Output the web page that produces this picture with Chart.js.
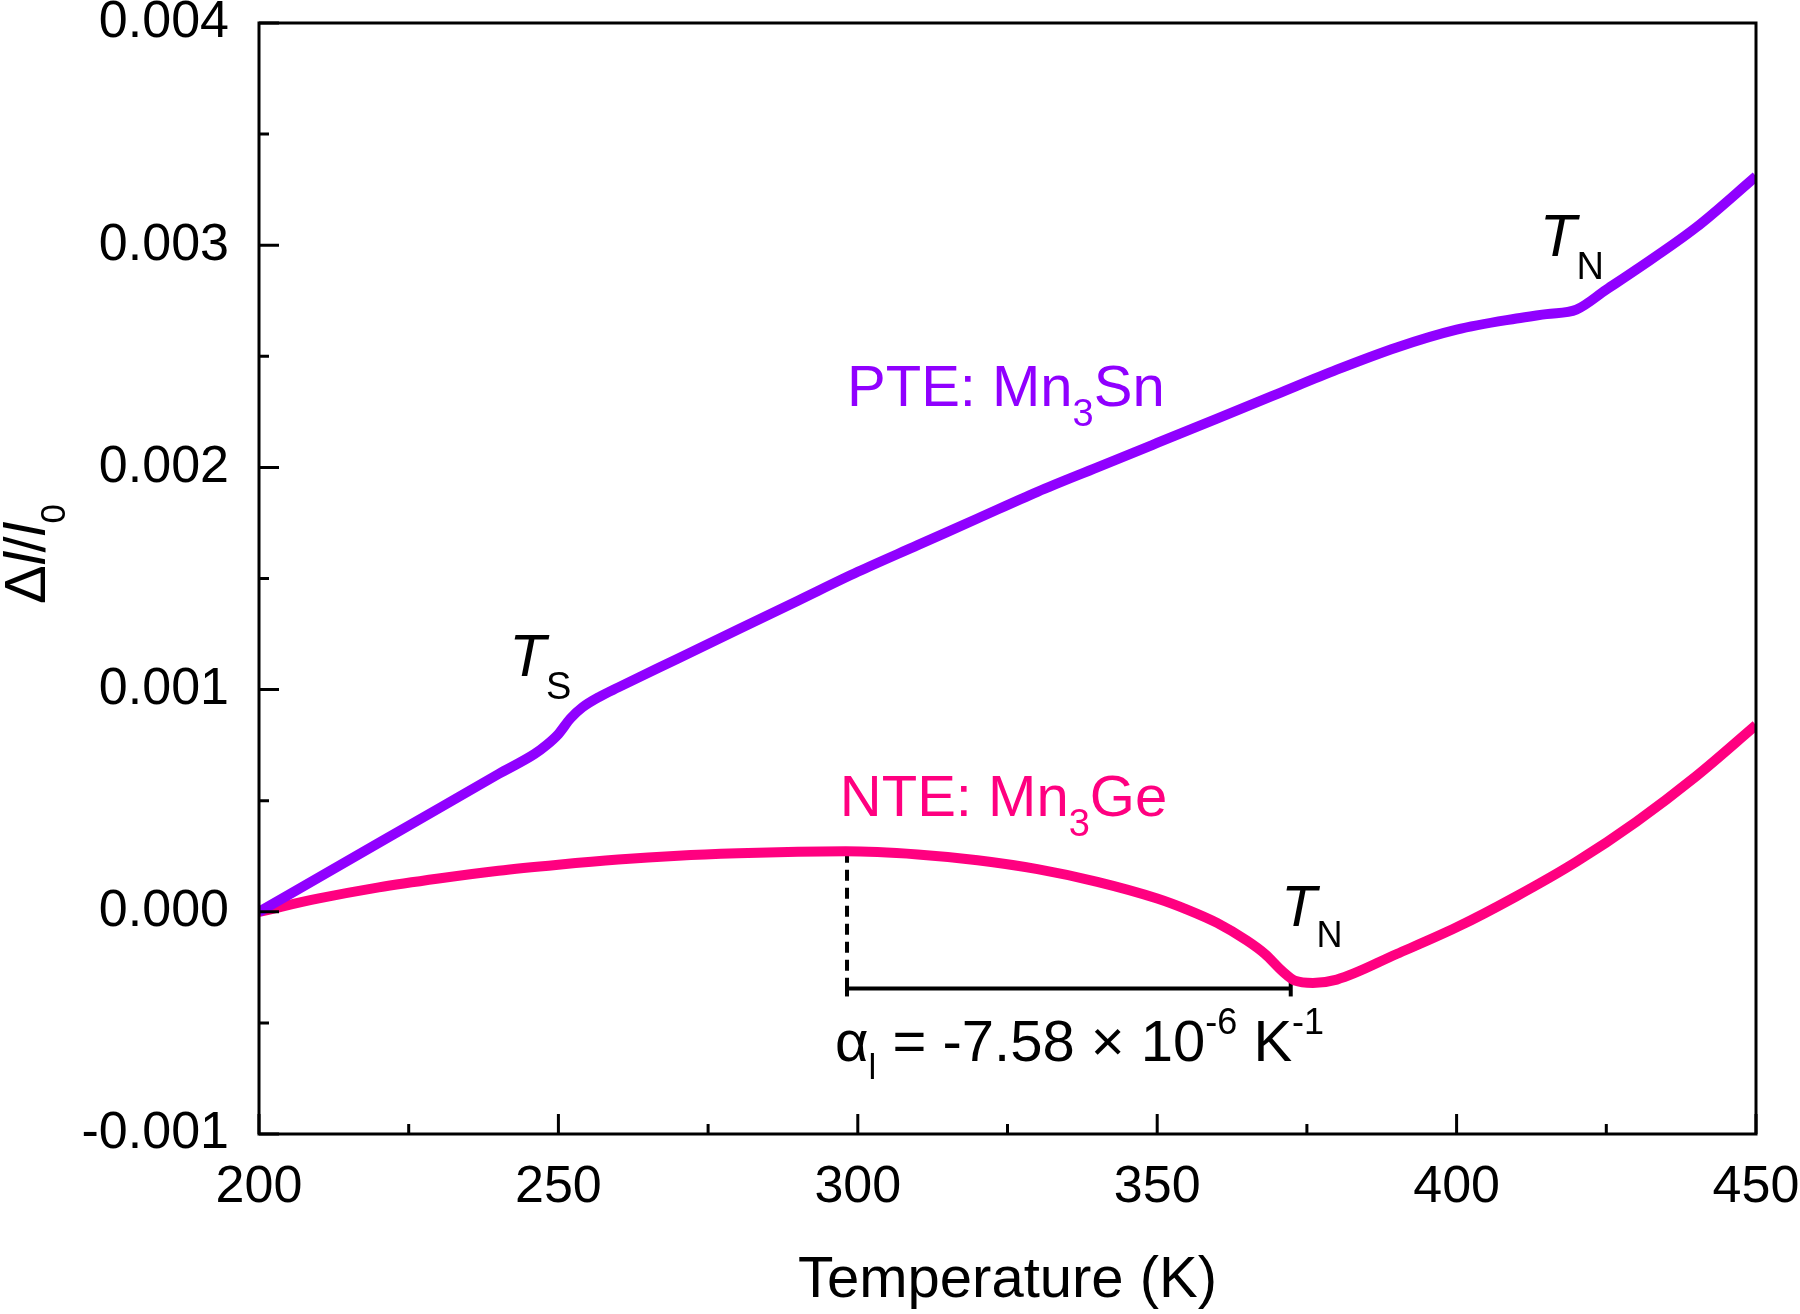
<!DOCTYPE html>
<html>
<head>
<meta charset="utf-8">
<script src="https://cdn.jsdelivr.net/npm/chart.js@4.4.1/dist/chart.umd.min.js"></script>
<style>
  html, body { margin: 0; padding: 0; background: #fff; }
  #wrap { width: 1800px; height: 1314px; }
</style>
</head>
<body>
<div id="wrap"><canvas id="chart" width="1800" height="1314"></canvas></div>
<script>
// PTE: Mn3Sn
const snTemp = [200, 210, 220, 230, 240, 246, 248, 250, 252, 254, 257, 260, 270, 280, 290, 300, 310, 320, 330, 340, 350, 360, 370, 380, 390, 400, 410, 415, 420, 425, 430, 440, 450];
const snDl = [0, 0.000155, 0.00031, 0.000465, 0.00062, 0.00071, 0.00075, 0.0008, 0.00087, 0.00092, 0.00097, 0.00101, 0.00114, 0.00127, 0.0014, 0.00153, 0.00165, 0.00177, 0.00189, 0.002, 0.00211, 0.00222, 0.00233, 0.00244, 0.00254, 0.00262, 0.00267, 0.00269, 0.00271, 0.0028, 0.00289, 0.00308, 0.00331];

// NTE: Mn3Ge
const geTemp = [200, 210, 220, 230, 240, 250, 260, 270, 280, 290, 298, 310, 320, 330, 340, 350, 355, 360, 365, 368, 371, 373, 376, 380, 390, 400, 410, 420, 430, 440, 450];
const geDl = [0, 0.00006, 0.00011, 0.00015, 0.000185, 0.000212, 0.000235, 0.000252, 0.000263, 0.00027, 0.000272, 0.000258, 0.000232, 0.000192, 0.000135, 0.00006, 0.00001, -0.00005, -0.00013, -0.00019, -0.00027, -0.00031, -0.00032, -0.000305, -0.00019, -0.00007, 0.00007, 0.000225, 0.000405, 0.00061, 0.00084];

// alpha bracket (298.2 K -> T_N 372.3 K)
const dashT = [298.2, 298.2];
const dashV = [0.00027, -0.000345];
const barT = [298.2, 372.3];
const barV = [-0.000345, -0.000345];

const xTicks = [200, 250, 300, 350, 400, 450];
const yTicks = [-0.001, 0, 0.001, 0.002, 0.003, 0.004];

const PURPLE = '#9000ff';
const PINK = '#ff0080';
const FONT = '"Liberation Sans", Arial, sans-serif';

function pts(xs, ys) {
  return xs.map((x, i) => ({ x: x, y: ys[i] }));
}

// draws text pieces one after another (sub/superscripts via dy)
function richText(ctx, x, y, parts, color) {
  ctx.fillStyle = color;
  ctx.textAlign = 'left';
  ctx.textBaseline = 'alphabetic';
  parts.forEach(p => {
    ctx.font = (p.it ? 'italic ' : '') + p.s + 'px ' + FONT;
    ctx.fillText(p.t, x, y + (p.dy || 0));
    x += ctx.measureText(p.t).width;
  });
}

function richWidth(ctx, parts) {
  let w = 0;
  parts.forEach(p => {
    ctx.font = (p.it ? 'italic ' : '') + p.s + 'px ' + FONT;
    w += ctx.measureText(p.t).width;
  });
  return w;
}

const notes = [
  { t: 298.2, v: 0.002275, c: PURPLE, parts: [{ t: 'PTE: Mn', s: 58 }, { t: '3', s: 38, dy: 20 }, { t: 'Sn', s: 58 }] },
  { t: 297.0, v: 0.00043, c: PINK, parts: [{ t: 'NTE: Mn', s: 58 }, { t: '3', s: 38, dy: 20 }, { t: 'Ge', s: 58 }] },
  { t: 241.8, v: 0.00106, c: '#000', parts: [{ t: 'T', s: 60, it: true }, { t: 'S', s: 38, dy: 23 }] },
  { t: 413.9, v: 0.00295, c: '#000', parts: [{ t: 'T', s: 60, it: true }, { t: 'N', s: 38, dy: 23 }] },
  { t: 370.7, v: -0.000065, c: '#000', parts: [{ t: 'T', s: 58, it: true }, { t: 'N', s: 36, dy: 21 }] },
  { t: 296.2, v: -0.000673, c: '#000', parts: [
    { t: 'α', s: 58 }, { t: 'l', s: 35, dy: 18 }, { t: ' = -7.58 × 10', s: 58 },
    { t: '-6', s: 36, dy: -27 }, { t: ' K', s: 58 }, { t: '-1', s: 36, dy: -27 }] }
];

const framePlugin = {
  id: 'frame',
  afterDraw(chart) {
    const { ctx, chartArea: a, scales: { x, y } } = chart;
    ctx.save();

    // box
    ctx.strokeStyle = '#000';
    ctx.lineWidth = 3;
    ctx.strokeRect(a.left, a.top, a.right - a.left, a.bottom - a.top);

    // inward ticks, major + minor (midpoints)
    ctx.beginPath();
    x.ticks.forEach((tk, i) => {
      const px = x.getPixelForValue(tk.value);
      ctx.moveTo(px, a.bottom); ctx.lineTo(px, a.bottom - 20);
      if (i < x.ticks.length - 1) {
        const mx = x.getPixelForValue((tk.value + x.ticks[i + 1].value) / 2);
        ctx.moveTo(mx, a.bottom); ctx.lineTo(mx, a.bottom - 10);
      }
    });
    y.ticks.forEach((tk, i) => {
      const py = y.getPixelForValue(tk.value);
      ctx.moveTo(a.left, py); ctx.lineTo(a.left + 20, py);
      if (i < y.ticks.length - 1) {
        const my = y.getPixelForValue((tk.value + y.ticks[i + 1].value) / 2);
        ctx.moveTo(a.left, my); ctx.lineTo(a.left + 10, my);
      }
    });
    ctx.stroke();

    // annotations
    notes.forEach(n => {
      richText(ctx, x.getPixelForValue(n.t), y.getPixelForValue(n.v), n.parts, n.c);
    });

    // x title
    ctx.fillStyle = '#000';
    ctx.font = '58px ' + FONT;
    ctx.textAlign = 'center';
    ctx.textBaseline = 'alphabetic';
    ctx.fillText('Temperature (K)', (a.left + a.right) / 2, 1297);

    // y title, rotated
    const yParts = [{ t: 'Δ', s: 58 }, { t: 'l', s: 58, it: true }, { t: '/', s: 58 }, { t: 'l', s: 58, it: true }, { t: '0', s: 35, dy: 20 }];
    ctx.translate(45, 554);
    ctx.rotate(-Math.PI / 2);
    richText(ctx, -richWidth(ctx, yParts) / 2, 0, yParts, '#000');

    ctx.restore();
  }
};

const ctx = document.getElementById('chart');
new Chart(ctx, {
  type: 'line',
  data: {
    datasets: [
      {
        label: 'PTE: Mn3Sn',
        data: pts(snTemp, snDl),
        borderColor: PURPLE,
        borderWidth: 10,
        pointRadius: 0,
        cubicInterpolationMode: 'monotone'
      },
      {
        label: 'NTE: Mn3Ge',
        data: pts(geTemp, geDl),
        borderColor: PINK,
        borderWidth: 10,
        pointRadius: 0,
        cubicInterpolationMode: 'monotone'
      },
      {
        label: 'bar',
        data: pts(barT, barV),
        borderColor: '#000',
        borderWidth: 4,
        pointStyle: 'line',
        rotation: 90,
        pointRadius: 8,
        pointBorderWidth: 4,
        pointBorderColor: '#000'
      },
      {
        label: 'dash',
        data: pts(dashT, dashV),
        borderColor: '#000',
        borderWidth: 4,
        borderDash: [11, 7],
        pointRadius: 0
      }
    ]
  },
  options: {
    responsive: false,
    animation: false,
    devicePixelRatio: 1,
    layout: { padding: { top: 23, right: 44, left: 0, bottom: 0 } },
    plugins: {
      legend: { display: false },
      tooltip: { enabled: false }
    },
    scales: {
      x: {
        type: 'linear',
        min: 200,
        max: 450,
        grid: { display: false },
        border: { display: false },
        afterBuildTicks: s => { s.ticks = xTicks.map(v => ({ value: v })); },
        afterFit: s => { s.height = 180; s.paddingLeft = 0; s.paddingRight = 0; },
        ticks: {
          color: '#000',
          font: { family: FONT, size: 52 },
          padding: 14,
          maxRotation: 0
        }
      },
      y: {
        type: 'linear',
        min: -0.001,
        max: 0.004,
        grid: { display: false },
        border: { display: false },
        afterBuildTicks: s => { s.ticks = yTicks.map(v => ({ value: v })); },
        afterFit: s => { s.width = 259; s.paddingTop = 0; s.paddingBottom = 0; },
        ticks: {
          color: '#000',
          font: { family: FONT, size: 52 },
          padding: 22,
          callback: v => (Math.abs(v) < 1e-9 ? 0 : v).toFixed(3)
        }
      }
    }
  },
  plugins: [framePlugin]
});
</script>
</body>
</html>
